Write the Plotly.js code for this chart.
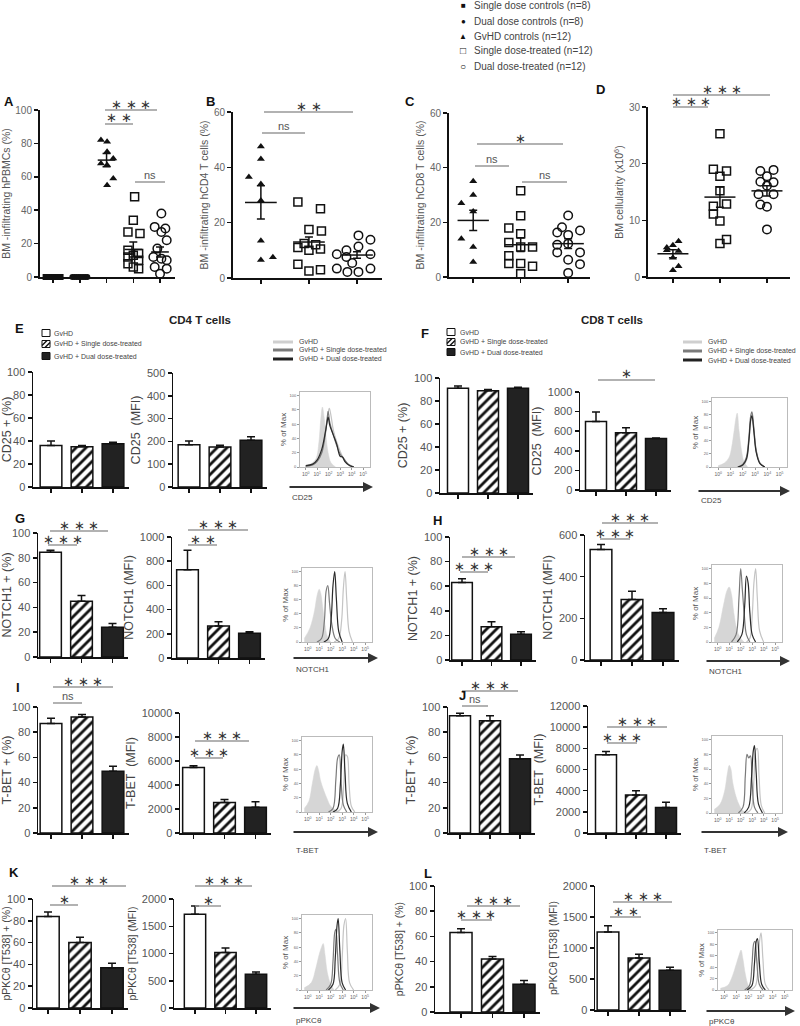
<!DOCTYPE html>
<html><head><meta charset="utf-8">
<script src="https://cdn.plot.ly/plotly-3.0.1.min.js"></script>
<style>html,body{margin:0;padding:0;background:#fff;}#chart{width:800px;height:1026px;}</style>
</head><body><div id="chart"></div>
<script>
// ================= DATA =================
const legendLabels = ['Single dose controls (n=8)','Dual dose controls (n=8)','GvHD controls (n=12)','Single dose-treated (n=12)','Dual dose-treated (n=12)'];
const legendGlyphs = ['■','●','▲','□','○'];
const barGroups = ['GvHD','GvHD + Single dose-treated','GvHD + Dual dose-treated'];

// Panel A (BM-infiltrating hPBMCs %)
const A_singleCtrl = [0,0,0,0,0,0,0,0];
const A_singleCtrl_dx = [-0.28,-0.2,-0.12,-0.04,0.04,0.12,0.2,0.28];
const A_dualCtrl = [0,0,0,0,0,0,0,0];
const A_dualCtrl_dx = [-0.28,-0.2,-0.12,-0.04,0.04,0.12,0.2,0.28];
const A_gvhd = [82,81,75,71,68,67,59,55];
const A_gvhd_dx = [-0.21,0.02,0.02,0.25,-0.21,0.02,0.25,0.02];
const A_single = [48,34,27,26,16,14,13,12,10,8,6,5];
const A_single_dx = [0.05,0,-0.2,0.25,-0.2,0.2,0,-0.2,0.2,-0.2,0,0.2];
const A_dual = [38,30,29,27,22,17,12,11,10,6,5,2];
const A_dual_dx = [0.05,-0.2,0.2,0.05,0.25,-0.1,-0.25,0.05,0.25,-0.2,0.25,0];
const A_mean = [0,0,70,16.5,15];
const A_sem = [0,0,4,4.5,3];

// Panel B (hCD4 %)
const B_gvhd = [47.5,43,36.5,34,28,13.5,6.5,7.5];
const B_gvhd_dx = [0,0,-0.25,0,0,0,0,0.25];
const B_single = [27.5,25,17.5,17,12.5,12,11,10.5,10,5,3,2.5];
const B_single_dx = [-0.23,0.24,0,0.26,-0.1,0.14,-0.23,0.24,0,-0.23,0.24,0];
const B_dual = [15.4,13.8,11.4,10,8.6,8.6,7.6,5.4,3.4,2.2,2.2,3.4];
const B_dual_dx = [0.03,0.28,0.03,-0.22,-0.42,0.28,-0.22,-0.1,-0.42,-0.2,0.03,0.28];
const B_mean = [27.3,13,8.3];
const B_sem = [6,1.8,1.2];

// Panel C (hCD8 %)
const C_gvhd = [35,30,27,24,14,11,5.5];
const C_gvhd_dx = [0,0,-0.25,0,-0.25,0,0];
const C_single = [31.6,22.4,17.9,15.8,12.6,11,11,7.8,4.9,4.9,3.9,1.2];
const C_single_dx = [0,0,-0.25,0,-0.25,0,0.25,-0.25,-0.25,0,0.25,0];
const C_dual = [22.5,16.3,17,18.2,15.4,12.2,11.8,9,6.3,9,4.7,1.5];
const C_dual_dx = [0,-0.23,0.25,-0.13,0,0,-0.23,0.25,0,-0.23,0.25,0];
const C_mean = [20.7,11.8,12.2];
const C_sem = [3.7,2.5,1.8];

// Panel D (BM cellularity x10^6)
const D_gvhd = [6.3,5.6,4.7,4.6,3.4,1.9,1.2,5.2];
const D_gvhd_dx = [0.12,0,-0.13,0.12,0,0.12,0,-0.13];
const D_single = [25.3,19,18.7,17.8,15.2,12.9,12.5,11.1,9.9,6.6,5.9];
const D_single_dx = [0,-0.14,0.14,0,0,0.14,-0.14,-0.14,0,0.14,0];
const D_dual = [18.7,18.9,17.8,16.8,16.7,16.1,14.6,14.6,12.8,12.4,8.4];
const D_dual_dx = [-0.14,0.14,0,-0.14,0.14,0,0.14,-0.18,-0.14,0,0];
const D_mean = [4.1,14.1,15.2];
const D_sem = [0.7,1.8,0.9];

// Bar panels: [GvHD, Single dose-treated, Dual dose-treated]
const E_pct = [36,35,37.5],   E_pct_err = [4,1,1.5];
const E_mfi = [185,175,205],  E_mfi_err = [17,8,15];
const F_pct = [91,89,91],     F_pct_err = [2,1,1];
const F_mfi = [700,585,525],  F_mfi_err = [95,50,5];
const G_pct = [84.5,45,24],   G_pct_err = [1.5,4.5,3];
const G_mfi = [730,265,205],  G_mfi_err = [160,35,12];
const H_pct = [63,27,21],     H_pct_err = [3,4,2];
const H_mfi = [530,290,228],  H_mfi_err = [25,40,18];
const I_pct = [87,92,49],     I_pct_err = [4,2,4];
const I_mfi = [5450,2550,2150], I_mfi_err = [150,250,450];
const J_pct = [93,89,59],     J_pct_err = [2,4,3];
const J_mfi = [7400,3600,2400], J_mfi_err = [300,400,500];
const K_pct = [84,60,37],     K_pct_err = [4,5,4];
const K_mfi = [1720,1020,620], K_mfi_err = [150,80,40];
const L_pct = [63,42,22],     L_pct_err = [3,2,3];
const L_mfi = [1260,840,640], L_mfi_err = [100,60,50];

// Flow histograms (x = log10 fluorescence, y = % of Max)
const histTickVals = [0,1,2,3,4,5];
const histTickText = ['10<sup>0</sup>','10<sup>1</sup>','10<sup>2</sup>','10<sup>3</sup>','10<sup>4</sup>','10<sup>5</sup>'];
const E_fill_x=[0,0.5,0.9,1.15,1.3,1.45,1.6,1.75,1.95,2.2,2.6], E_fill_y=[2,5,12,35,65,84,70,45,20,6,0];
const E_light_x=[0,0.6,1.0,1.4,1.7,1.9,2.05,2.2,2.4,2.7,3.0,3.3,3.7,4.2], E_light_y=[1,3,8,22,50,70,82,72,52,35,22,12,4,0];
const E_mid_x=[0,0.6,1.0,1.4,1.7,1.85,1.95,2.1,2.4,2.7,3.0,3.3,3.7,4.2], E_mid_y=[1,3,8,20,45,65,78,62,45,30,18,12,4,0];
const E_dark_x=[0,0.6,1.0,1.4,1.7,1.85,1.95,2.1,2.4,2.7,3.0,3.2,3.4,3.8,4.2], E_dark_y=[2,4,10,25,48,62,70,58,45,32,15,14,8,2,0];
const F_fill_x=[0,0.5,0.9,1.1,1.3,1.45,1.55,1.7,1.9,2.1,2.4], F_fill_y=[2,6,15,30,55,75,82,55,25,8,0];
const F_light_x=[1.6,2.0,2.3,2.5,2.65,2.75,2.9,3.1,3.4,3.8], F_light_y=[0,2,10,38,70,80,58,24,6,0];
const F_mid_x=[1.6,2.0,2.3,2.5,2.65,2.75,2.9,3.1,3.4,3.8], F_mid_y=[0,4,15,45,78,84,60,25,6,0];
const F_dark_x=[1.6,2.0,2.3,2.5,2.65,2.75,2.9,3.1,3.4,3.8], F_dark_y=[0,3,12,40,72,78,55,22,5,0];
const G_fill_x=[-0.3,0.2,0.6,0.8,1.0,1.15,1.3,1.5,1.7,2.0], G_fill_y=[5,20,45,65,75,68,50,25,8,0];
const G_light_x=[2.3,2.7,2.95,3.1,3.25,3.4,3.6,3.9], G_light_y=[0,5,30,75,100,60,15,0];
const G_mid_x=[0.8,1.2,1.45,1.6,1.75,1.9,2.1,2.4,2.8], G_mid_y=[0,5,30,72,80,55,25,5,0];
const G_dark_x=[1.4,1.8,2.05,2.2,2.35,2.5,2.7,3.0], G_dark_y=[0,5,35,80,100,60,15,0];
const H_fill_x=[-0.3,0.1,0.5,0.8,1.0,1.2,1.4,1.7,2.0,2.3], H_fill_y=[5,20,50,70,75,65,40,15,5,0];
const H_light_x=[2.5,2.8,3.0,3.15,3.3,3.45,3.65,4.0], H_light_y=[0,5,35,80,100,60,15,0];
const H_mid_x=[1.2,1.6,1.85,2.0,2.15,2.3,2.5,2.8], H_mid_y=[0,10,60,100,70,40,10,0];
const H_dark_x=[1.7,2.1,2.35,2.5,2.65,2.8,3.0,3.3], H_dark_y=[0,10,50,90,80,40,10,0];
const I_fill_x=[-0.3,0.1,0.4,0.65,0.8,0.95,1.1,1.4,1.7,2.0,2.4,2.8], I_fill_y=[5,15,40,60,65,58,45,30,18,8,3,0];
const I_light_x=[2.5,2.9,3.15,3.3,3.45,3.6,3.8,4.1], I_light_y=[0,5,40,80,78,40,8,0];
const I_mid_x=[1.8,2.2,2.45,2.6,2.75,2.9,3.1,3.4], I_mid_y=[0,5,45,75,80,45,10,0];
const I_dark_x=[2.2,2.6,2.85,3.0,3.1,3.25,3.45,3.8], I_dark_y=[0,5,40,85,95,55,12,0];
const J_fill_x=[-0.3,0.2,0.6,0.85,1.0,1.15,1.3,1.6,1.9,2.2,2.6], J_fill_y=[5,12,30,55,65,60,42,22,10,3,0];
const J_light_x=[2.5,2.9,3.15,3.3,3.45,3.6,3.8,4.1], J_light_y=[0,5,45,85,88,50,10,0];
const J_mid_x=[1.8,2.2,2.4,2.55,2.7,2.85,3.0,3.2,3.5], J_mid_y=[0,8,50,80,75,78,40,8,0];
const J_dark_x=[2.3,2.7,2.95,3.1,3.2,3.35,3.55,3.9], J_dark_y=[0,8,50,85,92,55,12,0];
const K_fill_x=[-0.3,0.3,0.7,1.0,1.2,1.35,1.5,1.7,2.0,2.3], K_fill_y=[3,10,30,50,60,65,50,25,8,0];
const K_light_x=[2.4,2.8,3.0,3.15,3.3,3.45,3.65,4.0], K_light_y=[0,8,45,90,100,55,10,0];
const K_mid_x=[1.6,2.0,2.2,2.35,2.45,2.6,2.8,3.1], K_mid_y=[0,8,40,80,85,50,10,0];
const K_dark_x=[1.8,2.2,2.4,2.55,2.65,2.8,3.0,3.3], K_dark_y=[0,8,45,90,100,55,10,0];
const L_fill_x=[-0.3,0.3,0.7,1.0,1.25,1.4,1.55,1.75,2.0,2.3], L_fill_y=[3,8,25,45,62,70,55,28,8,0];
const L_light_x=[2.2,2.6,2.8,2.95,3.05,3.2,3.4,3.7], L_light_y=[0,8,45,90,100,55,10,0];
const L_mid_x=[1.7,2.1,2.3,2.45,2.55,2.7,2.9,3.2], L_mid_y=[0,8,45,82,85,50,10,0];
const L_dark_x=[1.9,2.3,2.5,2.65,2.75,2.9,3.1,3.4], L_dark_y=[0,8,45,85,90,50,10,0];

// ================= BUILD =================
const W=800, H=1026;
const px=v=>v/W, py=v=>1-v/H;
const BLACK='#111';
const layout={width:W,height:H,margin:{l:0,r:0,t:0,b:0},paper_bgcolor:'#fff',plot_bgcolor:'#fff',barmode:'overlay',
  showlegend:false,font:{family:'Liberation Sans, Arial, sans-serif',color:'#444'},shapes:[],annotations:[]};
const data=[];
let axN=0;
function axes(l,r,t,b,xo,yo){
  axN++; const s=axN===1?'':axN;
  layout['xaxis'+s]=Object.assign({domain:[px(l),px(r)],anchor:'y'+s,fixedrange:true,automargin:false},xo);
  layout['yaxis'+s]=Object.assign({domain:[py(b),py(t)],anchor:'x'+s,fixedrange:true,automargin:false},yo);
  return {x:'x'+s,y:'y'+s};
}
function text(x,y,t,o){layout.annotations.push(Object.assign({x:px(x),y:py(y),xref:'paper',yref:'paper',text:t,showarrow:false,xanchor:'center',yanchor:'middle',font:{size:10,color:'#333'}},o||{}));}
function hline(x1,x2,y,color,w){layout.shapes.push({type:'line',xref:'paper',yref:'paper',x0:px(x1),x1:px(x2),y0:py(y),y1:py(y),line:{color:color||'#999',width:w||1.5}});}
function sig(list){list.forEach(s=>{hline(s[0],s[1],s[2]);
  const isNs=s[3]==='ns';
  text((s[0]+s[1])/2,s[2]-(isNs?7:6),s[3],{font:{size:isNs?11:13,color:isNs?'#555':'#333'}});});}

const mSqF={symbol:'square',size:6,color:BLACK};
const mCiF={symbol:'circle',size:6,color:BLACK};
const mTri={symbol:'triangle-up',size:7,color:BLACK};
const mSqO={symbol:'square-open',size:8,color:BLACK,line:{width:1.5,color:BLACK}};
const mCiO={symbol:'circle-open',size:8.5,color:BLACK,line:{width:1.5,color:BLACK}};

function scatterPanel(p){
  const a=axes(p.l,p.r,p.t,p.b,
    {range:p.xr,showline:true,linewidth:2,linecolor:BLACK,ticks:'outside',ticklen:4,tickwidth:1.5,tickcolor:BLACK,
     tickvals:p.groups.map((g,i)=>i+1),showticklabels:false,showgrid:false,zeroline:false},
    {range:[0,p.ymax],dtick:p.dtick,tick0:0,showline:true,linewidth:2,linecolor:BLACK,ticks:'outside',ticklen:4,tickwidth:1.5,tickcolor:BLACK,
     tickfont:{size:10,color:'#666'},showgrid:false,zeroline:false,title:{text:p.title,font:{size:10.5,color:'#555'},standoff:3}});
  p.groups.forEach((g,i)=>{
    const c=i+1;
    data.push({type:'scatter',mode:'markers',xaxis:a.x,yaxis:a.y,x:g.dx.map(d=>c+d),y:g.v,cliponaxis:false,marker:g.m,hoverinfo:'skip'});
    data.push({type:'scatter',mode:'lines',xaxis:a.x,yaxis:a.y,x:[c-0.33,c+0.33],y:[p.mean[i],p.mean[i]],cliponaxis:false,line:{color:BLACK,width:1.5},hoverinfo:'skip'});
    if(p.sem[i]>0) data.push({type:'scatter',mode:'markers',xaxis:a.x,yaxis:a.y,x:[c],y:[p.mean[i]],cliponaxis:false,
      marker:{size:1,color:'rgba(0,0,0,0)'},error_y:{type:'data',array:[p.sem[i]],color:BLACK,thickness:1.5,width:4},hoverinfo:'skip'});
  });
}

const barStyles=[
  {color:'#ffffff',line:{color:BLACK,width:1.5}},
  {color:'#ffffff',line:{color:BLACK,width:1.5},pattern:{shape:'/',fgcolor:'#111111',bgcolor:'#ffffff',size:7,solidity:0.4,fillmode:'replace'}},
  {color:'#222222',line:{color:BLACK,width:1.5}}
];
function barPanel(p){
  const lo=1-(p.c1-p.x0)/p.s, r=p.c1+2.5*p.s;
  const a=axes(p.x0,r,p.t,p.b,
    {range:[lo,3.5],showline:true,linewidth:1.5,linecolor:BLACK,ticks:'outside',ticklen:4,tickwidth:1.5,tickcolor:BLACK,
     tickvals:[1,2,3],showticklabels:false,showgrid:false,zeroline:false},
    {range:[0,p.ymax],dtick:p.dtick,tick0:0,tickformat:'d',showline:true,linewidth:1.5,linecolor:BLACK,ticks:'outside',ticklen:4,tickwidth:1.5,tickcolor:BLACK,
     tickfont:{size:11,color:'#555'},showgrid:false,zeroline:false,title:{text:p.title,font:{size:p.tfs||12.5,color:'#444'},standoff:3}});
  p.v.forEach((v,i)=>{
    data.push({type:'bar',xaxis:a.x,yaxis:a.y,x:[i+1],y:[v],width:0.7,cliponaxis:false,name:barGroups[i],hoverinfo:'skip',
      marker:barStyles[i],
      error_y:{type:'data',symmetric:false,array:[p.e[i]],arrayminus:[0],color:BLACK,thickness:1.5,width:4}});
  });
}

function histPanel(p){
  const a=axes(p.l,p.r,p.t,p.b,
    {range:[-0.5,5.6],showline:true,mirror:true,linewidth:1,linecolor:'#bbb',ticks:'outside',ticklen:2,tickcolor:'#999',
     tickvals:histTickVals,ticktext:histTickText,tickfont:{size:5,color:'#666'},showgrid:false,zeroline:false},
    {range:[0,105],tickvals:[0,20,40,60,80,100],showline:true,mirror:true,linewidth:1,linecolor:'#bbb',ticks:'outside',ticklen:2,tickcolor:'#999',
     tickfont:{size:4,color:'#666'},showgrid:false,zeroline:false,title:{text:'% of Max',font:{size:8,color:'#555'},standoff:1}});
  data.push({type:'scatter',mode:'lines',xaxis:a.x,yaxis:a.y,x:p.c[0],y:p.c[1],fill:'tozeroy',fillcolor:'#d6d6d6',line:{color:'#d6d6d6',width:0.5,shape:'spline'},hoverinfo:'skip'});
  data.push({type:'scatter',mode:'lines',xaxis:a.x,yaxis:a.y,x:p.c[2],y:p.c[3],line:{color:'#c4c4c4',width:1.2,shape:'spline'},hoverinfo:'skip'});
  data.push({type:'scatter',mode:'lines',xaxis:a.x,yaxis:a.y,x:p.c[4],y:p.c[5],line:{color:'#7a7a7a',width:1.2,shape:'spline'},hoverinfo:'skip'});
  data.push({type:'scatter',mode:'lines',xaxis:a.x,yaxis:a.y,x:p.c[6],y:p.c[7],line:{color:'#2a2a2a',width:1.2,shape:'spline'},hoverinfo:'skip'});
  layout.annotations.push({x:px(p.ar),y:py(p.ay),xref:'paper',yref:'paper',ax:-(p.ar-p.al),ay:0,showarrow:true,text:'',
    arrowhead:2,arrowsize:1,arrowwidth:2,arrowcolor:'#333'});
  text(p.al+2,p.ly,p.label,{xanchor:'left',font:{size:8,color:'#444'}});
}

// ---- top legend ----
const legY=[6,21,36,51,67];
legendLabels.forEach((t,i)=>{
  text(463,legY[i],legendGlyphs[i],{font:{size:i<3?8:10,color:'#111'}});
  text(472,legY[i],t,{xanchor:'left',font:{size:10,color:'#444'}});
});

// ---- Panels A-D ----
scatterPanel({l:40,r:175,t:110,b:277,ymax:100,dtick:20,xr:[0.51,5.56],title:'BM -infiltrating hPBMCs (%)',
  groups:[{v:A_singleCtrl,dx:A_singleCtrl_dx,m:mSqF},{v:A_dualCtrl,dx:A_dualCtrl_dx,m:mCiF},{v:A_gvhd,dx:A_gvhd_dx,m:mTri},
          {v:A_single,dx:A_single_dx,m:mSqO},{v:A_dual,dx:A_dual_dx,m:mCiO}],mean:A_mean,sem:A_sem});
scatterPanel({l:233,r:382,t:112,b:278,ymax:60,dtick:20,xr:[0.42,3.52],title:'BM -infiltrating hCD4 T cells (%)',
  groups:[{v:B_gvhd,dx:B_gvhd_dx,m:mTri},{v:B_single,dx:B_single_dx,m:mSqO},{v:B_dual,dx:B_dual_dx,m:mCiO}],mean:B_mean,sem:B_sem});
scatterPanel({l:449,r:590,t:113,b:277,ymax:60,dtick:20,xr:[0.49,3.46],title:'BM -infiltrating hCD8 T cells (%)',
  groups:[{v:C_gvhd,dx:C_gvhd_dx,m:mTri},{v:C_single,dx:C_single_dx,m:mSqO},{v:C_dual,dx:C_dual_dx,m:mCiO}],mean:C_mean,sem:C_sem});
scatterPanel({l:648,r:790,t:107,b:277,ymax:30,dtick:10,xr:[0.47,3.49],title:'BM cellularity (x10<sup>6</sup>)',
  groups:[{v:D_gvhd,dx:D_gvhd_dx,m:mTri},{v:D_single,dx:D_single_dx,m:mSqO},{v:D_dual,dx:D_dual_dx,m:mCiO}],mean:D_mean,sem:D_sem});
sig([[105,157,110,'∗ ∗ ∗'],[105,133,124,'∗ ∗'],[135,165,182,'ns'],
     [264,353,112,'∗ ∗'],[262,305,133,'ns'],
     [477,563,144,'∗'],[475,509,166,'ns'],[522,567,182,'ns'],
     [673,708,107,'∗ ∗ ∗'],[673,770,95,'∗ ∗ ∗']]);

// ---- Bar rows ----
barPanel({x0:33,c1:51,s:31,t:372,b:487,ymax:100,dtick:20,v:E_pct,e:E_pct_err,title:'CD25 + (%)'});
barPanel({x0:173,c1:189,s:31,t:373,b:487,ymax:500,dtick:100,v:E_mfi,e:E_mfi_err,title:'CD25  (MFI)'});
barPanel({x0:440,c1:458,s:30,t:378,b:493,ymax:100,dtick:20,v:F_pct,e:F_pct_err,title:'CD25 + (%)'});
barPanel({x0:580,c1:596,s:30,t:392,b:490,ymax:1000,dtick:200,v:F_mfi,e:F_mfi_err,title:'CD25  (MFI)'});
barPanel({x0:38,c1:50.5,s:31,t:533,b:657,ymax:100,dtick:20,v:G_pct,e:G_pct_err,title:'NOTCH1 + (%)'});
barPanel({x0:172,c1:187.5,s:31,t:537,b:658,ymax:1000,dtick:200,v:G_mfi,e:G_mfi_err,title:'NOTCH1 (MFI)'});
barPanel({x0:450,c1:462,s:29.5,t:537,b:660,ymax:100,dtick:20,v:H_pct,e:H_pct_err,title:'NOTCH1 + (%)'});
barPanel({x0:585,c1:601,s:31,t:535,b:660,ymax:600,dtick:200,v:H_mfi,e:H_mfi_err,title:'NOTCH1 (MFI)'});
barPanel({x0:38,c1:51,s:31,t:707,b:833,ymax:100,dtick:20,v:I_pct,e:I_pct_err,title:'T-BET + (%)'});
barPanel({x0:180,c1:193.5,s:31,t:713,b:833,ymax:10000,dtick:2000,v:I_mfi,e:I_mfi_err,title:'T-BET  (MFI)'});
barPanel({x0:448,c1:460,s:30,t:707,b:833,ymax:100,dtick:20,v:J_pct,e:J_pct_err,title:'T-BET + (%)'});
barPanel({x0:588,c1:606,s:30,t:706,b:833,ymax:12000,dtick:2000,v:J_mfi,e:J_mfi_err,title:'T-BET  (MFI)'});
barPanel({x0:33,c1:48,s:32,t:899,b:1008,ymax:100,dtick:20,v:K_pct,e:K_pct_err,title:'pPKCθ [T538] + (%)',tfs:10.5});
barPanel({x0:174,c1:195,s:30.5,t:899,b:1008,ymax:2000,dtick:500,v:K_mfi,e:K_mfi_err,title:'pPKCθ [T538] (MFI)',tfs:10.5});
barPanel({x0:435,c1:461,s:31.5,t:886,b:1012,ymax:100,dtick:20,v:L_pct,e:L_pct_err,title:'pPKCθ [T538] + (%)',tfs:10.5});
barPanel({x0:595,c1:608,s:31,t:886,b:1010,ymax:2000,dtick:500,v:L_mfi,e:L_mfi_err,title:'pPKCθ [T538] (MFI)',tfs:10.5});
sig([[598,655,380,'∗'],
     [48,77,545,'∗ ∗ ∗'],[50,108,531,'∗ ∗ ∗'],[188,217,545,'∗ ∗'],[188,248,530,'∗ ∗ ∗'],
     [460,488,572,'∗ ∗ ∗'],[462,515,557,'∗ ∗ ∗'],[600,630,539,'∗ ∗ ∗'],[602,658,523,'∗ ∗ ∗'],
     [53,82,703,'ns'],[53,113,687,'∗ ∗ ∗'],[195,223,758,'∗ ∗ ∗'],[195,249,741,'∗ ∗ ∗'],
     [462,488,706,'ns'],[462,518,691,'∗ ∗ ∗'],[607,637,743,'∗ ∗ ∗'],[607,667,727,'∗ ∗ ∗'],
     [50,78,905,'∗'],[52,126,886,'∗ ∗ ∗'],[195,221,906,'∗'],[195,252,886,'∗ ∗ ∗'],
     [461,492,920,'∗ ∗ ∗'],[467,520,906,'∗ ∗ ∗'],[610,641,917,'∗ ∗'],[613,672,902,'∗ ∗ ∗']]);

// ---- Histograms ----
histPanel({l:300,r:370,t:392,b:467,ar:373,al:288,ay:487,ly:497,label:'CD25',c:[E_fill_x,E_fill_y,E_light_x,E_light_y,E_mid_x,E_mid_y,E_dark_x,E_dark_y]});
histPanel({l:712,r:787,t:398,b:467,ar:790,al:697,ay:491,ly:500,label:'CD25',c:[F_fill_x,F_fill_y,F_light_x,F_light_y,F_mid_x,F_mid_y,F_dark_x,F_dark_y]});
histPanel({l:302,r:372,t:568,b:642,ar:378,al:292,ay:658,ly:669,label:'NOTCH1',c:[G_fill_x,G_fill_y,G_light_x,G_light_y,G_mid_x,G_mid_y,G_dark_x,G_dark_y]});
histPanel({l:712,r:782,t:565,b:642,ar:790,al:705,ay:661,ly:671,label:'NOTCH1',c:[H_fill_x,H_fill_y,H_light_x,H_light_y,H_mid_x,H_mid_y,H_dark_x,H_dark_y]});
histPanel({l:302,r:372,t:737,b:812,ar:378,al:292,ay:832,ly:850,label:'T-BET',c:[I_fill_x,I_fill_y,I_light_x,I_light_y,I_mid_x,I_mid_y,I_dark_x,I_dark_y]});
histPanel({l:712,r:782,t:736,b:813,ar:788,al:700,ay:832,ly:850,label:'T-BET',c:[J_fill_x,J_fill_y,J_light_x,J_light_y,J_mid_x,J_mid_y,J_dark_x,J_dark_y]});
histPanel({l:302,r:372,t:915,b:990,ar:380,al:292,ay:1008,ly:1020,label:'pPKCθ',c:[K_fill_x,K_fill_y,K_light_x,K_light_y,K_mid_x,K_mid_y,K_dark_x,K_dark_y]});
histPanel({l:718,r:792,t:930,b:990,ar:795,al:705,ay:1011,ly:1021,label:'pPKCθ',c:[L_fill_x,L_fill_y,L_light_x,L_light_y,L_mid_x,L_mid_y,L_dark_x,L_dark_y]});

// ---- Section titles & letters ----
text(200,320,'<b>CD4 T cells</b>',{font:{size:11.5,color:'#222'}});
text(612,320,'<b>CD8 T cells</b>',{font:{size:11.5,color:'#222'}});
[['A',9,101],['B',210,101],['C',410,101],['D',600,89],['E',19,328],['F',425,333],['G',20,518],['H',437,520],
 ['I',18,687],['J',462,695],['K',14,872],['L',428,873]].forEach(l=>text(l[1],l[2],'<b>'+l[0]+'</b>',{font:{size:13,color:'#111'}}));

// ---- bar legends (E, F) ----
function barLegend(x,ys,tx){
  barGroups.forEach((g,i)=>{
    const y=ys[i];
    layout.shapes.push({type:'rect',xref:'paper',yref:'paper',x0:px(x),x1:px(x+8),y0:py(y+3.5),y1:py(y-3.5),
      line:{color:BLACK,width:1},fillcolor:i===2?'#222':'#fff'});
    if(i===1){
      layout.shapes.push({type:'line',xref:'paper',yref:'paper',x0:px(x),x1:px(x+5),y0:py(y+1.5),y1:py(y-3.5),line:{color:BLACK,width:1.5}});
      layout.shapes.push({type:'line',xref:'paper',yref:'paper',x0:px(x+3),x1:px(x+8),y0:py(y+3.5),y1:py(y-1.5),line:{color:BLACK,width:1.5}});
    }
    text(tx,y,g,{xanchor:'left',font:{size:7,color:'#444'}});
  });
}
barLegend(42,[333,344,356],52);
barLegend(447,[332,342,352],458);
function lineLegend(x1,x2,ys,tx){
  const cols=['#cfcfcf','#7a7a7a','#222'];
  barGroups.forEach((g,i)=>{hline(x1,x2,ys[i],cols[i],3);text(tx,ys[i],g,{xanchor:'left',font:{size:7,color:'#444'}});});
}
lineLegend(273,293,[342,350,359],297);
lineLegend(683,702,[342,351,360],706);

Plotly.newPlot('chart',data,layout,{staticPlot:true,displayModeBar:false});
</script></body></html>
